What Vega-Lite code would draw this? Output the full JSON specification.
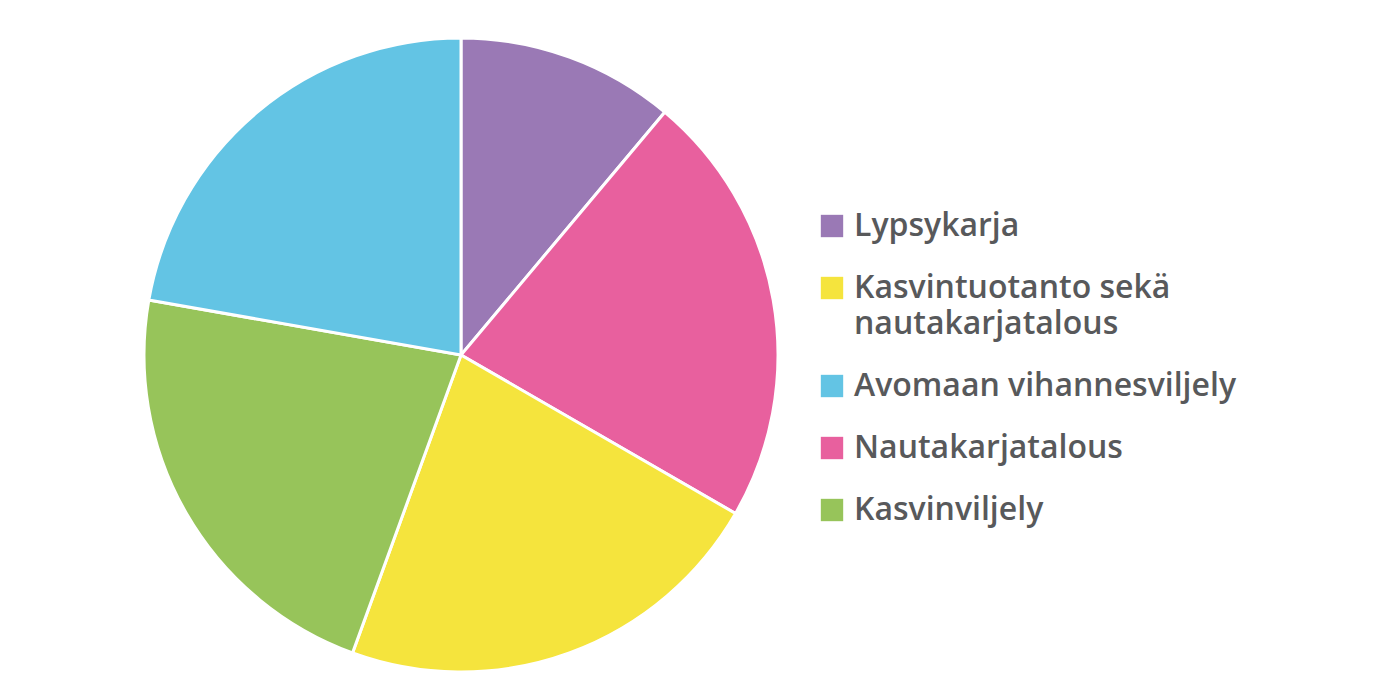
{
  "$schema": "https://vega.github.io/schema/vega-lite/v6.json",
  "width": 872,
  "height": 690,
  "autosize": "none",
  "padding": {"left": 25, "top": 10, "right": 488, "bottom": 0},
  "background": "white",
  "config": {
    "view": {"stroke": null},
    "style": {"guide-label": {"lineHeight": 36}}
  },
  "data": {"values": [
    {"category": "Lypsykarja", "value": 1, "order": 1},
    {"category": "Nautakarjatalous", "value": 2, "order": 2},
    {"category": "Kasvintuotanto sekä nautakarjatalous", "value": 2, "order": 3},
    {"category": "Kasvinviljely", "value": 2, "order": 4},
    {"category": "Avomaan vihannesviljely", "value": 2, "order": 5}
  ]},
  "mark": {"type": "arc", "radius": 317, "stroke": "white", "strokeWidth": 3},
  "encoding": {
    "theta": {"field": "value", "type": "quantitative", "stack": true},
    "order": {"field": "order", "type": "quantitative"},
    "color": {
      "field": "category",
      "type": "nominal",
      "scale": {
        "domain": ["Lypsykarja", "Kasvintuotanto sekä nautakarjatalous", "Avomaan vihannesviljely", "Nautakarjatalous", "Kasvinviljely"],
        "range": ["#9A79B5", "#F5E43D", "#63C4E4", "#E8609E", "#97C45A"]
      },
      "legend": {
        "title": null,
        "orient": "none",
        "legendX": 791,
        "legendY": 200,
        "symbolType": "square",
        "symbolSize": 500,
        "symbolStrokeWidth": 0,
        "symbolOpacity": 1,
        "labelFont": "Open Sans",
        "labelFontWeight": 600,
        "labelFontSize": 32,
        "labelColor": "#58595B",
        "labelLimit": 600,
        "labelOffset": 6,
        "rowPadding": 30,
        "labelExpr": "datum.label == 'Kasvintuotanto sekä nautakarjatalous' ? ['Kasvintuotanto sekä', 'nautakarjatalous'] : datum.label"
      }
    }
  }
}
